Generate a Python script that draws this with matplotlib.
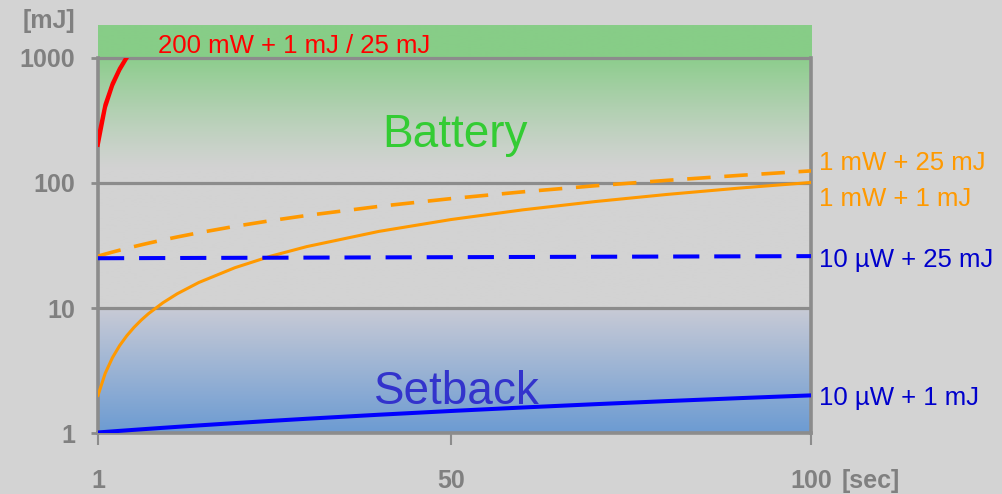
import numpy as np
import matplotlib
matplotlib.use("Agg")
import matplotlib.pyplot as plt
from matplotlib.patches import Rectangle
from matplotlib.ticker import NullLocator

plt.rcParams['font.family'] = ['Liberation Sans', 'DejaVu Sans']

# energy budget over time [mJ] for each power draw + start-up energy
t = [1, 2, 3, 4, 5, 6, 7, 8, 10, 12, 15, 20, 25, 30, 40, 50, 60, 70, 80, 90, 100]
mw1_25mj = [26, 27, 28, 29, 30, 31, 32, 33, 35, 37, 40, 45, 50, 55, 65, 75, 85, 95, 105, 115, 125]
mw1_1mj = [2, 3, 4, 5, 6, 7, 8, 9, 11, 13, 16, 21, 26, 31, 41, 51, 61, 71, 81, 91, 101]
uw10_25mj = [25.01, 25.02, 25.03, 25.04, 25.05, 25.06, 25.07, 25.08, 25.1, 25.12, 25.15,
             25.2, 25.25, 25.3, 25.4, 25.5, 25.6, 25.7, 25.8, 25.9, 26.0]
uw10_1mj = [1.01, 1.02, 1.03, 1.04, 1.05, 1.06, 1.07, 1.08, 1.1, 1.12, 1.15,
            1.2, 1.25, 1.3, 1.4, 1.5, 1.6, 1.7, 1.8, 1.9, 2.0]

t_red = [1, 2, 3, 4, 5, 6]
mw200_1mj = [201, 401, 601, 801, 1001, 1201]
mw200_25mj = [225, 425, 625, 825, 1025, 1225]

yticks = [1, 10, 100, 1000]
xticks = [1, 50, 100]

bg = '#d3d3d3'
grid_c = '#8c8c8c'
text_gray = '#808080'
orange = '#ff9900'
blue = '#0000ff'
blue_txt = '#0000cc'
red = '#ff0000'

fig = plt.figure(figsize=(10.02, 4.94), dpi=100, facecolor=bg)
ax = fig.add_axes([98 / 1002, 61 / 494, 713 / 1002, 408 / 494])
ax.set_facecolor(bg)

top_dec = 408 / 125  # axes top in decades, the green strip sits above 1000

# vertical background shading: green battery zone, blue setback zone
v = np.linspace(0, top_dec, 800)
gray = np.array([0xd3, 0xd3, 0xd3]) / 255
green_band = np.array([0x87, 0xcd, 0x87]) / 255
green_top = np.array([0x8c, 0xcd, 0x8c]) / 255
blue_lo = np.array([0x6c, 0x9b, 0xd2]) / 255
blue_hi = np.array([0xc9, 0xcb, 0xd6]) / 255
img = np.zeros((len(v), 1, 3))
for i, d in enumerate(v):
    if d >= 3:
        c = green_band
    elif d >= 2.1:
        f = (d - 2.1) / 0.9
        c = gray + (green_top - gray) * f ** 1.2
    elif d >= 1:
        c = gray
    else:
        c = blue_lo + (blue_hi - blue_lo) * d
    img[i, 0] = c
ax.imshow(img, extent=(0, 1, 0, 1), transform=ax.transAxes, aspect='auto',
          origin='lower', interpolation='bilinear', zorder=0)

ax.set_yscale('log')
ax.set_xlim(1, 100)
ax.set_ylim(1, 10 ** top_dec)

clip = Rectangle((1, 1), 99, 999, transform=ax.transData, fill=False)

ax.plot(t, mw1_25mj, color=orange, lw=2.6, dashes=(6.5, 3.8), zorder=3)
ax.plot(t, mw1_1mj, color=orange, lw=2.2, zorder=3)
ax.plot(t, uw10_25mj, color=blue, lw=2.9, dashes=(6.5, 3.7), zorder=3)
ax.plot(t, uw10_1mj, color=blue, lw=2.9, zorder=3)
for ys in (mw200_1mj, mw200_25mj):
    ln, = ax.plot(t_red, ys, color=red, lw=2.6, zorder=3)
    ln.set_clip_path(clip)

# axes styling
for s in ('left', 'right'):
    ax.spines[s].set_bounds(1, 1000)
    ax.spines[s].set_color(grid_c)
    ax.spines[s].set_linewidth(2.6)
ax.spines['bottom'].set_color(grid_c)
ax.spines['bottom'].set_linewidth(2.6)
ax.spines['top'].set_visible(False)

ax.set_yticks(yticks)
ax.set_yticklabels([str(y) for y in yticks], fontweight='bold')
ax.yaxis.set_minor_locator(NullLocator())
ax.set_xticks(xticks)
ax.set_xticklabels([str(x) for x in xticks], fontweight='bold')
ax.tick_params(axis='y', length=5, width=2, color=grid_c, pad=11.5,
               labelsize=18, labelcolor=text_gray)
ax.tick_params(axis='x', length=8.5, width=1.5, color=grid_c, pad=17.5,
               labelsize=18, labelcolor=text_gray)
ax.set_axisbelow(True)
ax.yaxis.grid(True, color=grid_c, lw=2.3)

ax.annotate('[sec]', xy=(100, 0), xycoords=('data', 'axes fraction'),
            xytext=(31, -55), textcoords='offset pixels', ha='left', va='baseline',
            fontsize=18, fontweight='bold', color=text_gray)
ax.annotate('[mJ]', xy=(0, 1), xycoords='axes fraction',
            xytext=(-23, 4), textcoords='offset pixels', ha='right', va='center',
            fontsize=18, fontweight='bold', color=text_gray)

# zone names
ax.text(50.5, 194, 'Battery', ha='center', va='baseline', fontsize=33, color='#33cc33')
ax.text(50.9, 1.71, 'Setback', ha='center', va='baseline', fontsize=33, color='#3333cc')

# series labels at the right end of each curve
labels = [
    ('1 mW + 25 mJ', mw1_25mj[-1], 1, orange),
    ('1 mW + 1 mJ', mw1_1mj[-1], -24, orange),
    ('10 µW + 25 mJ', uw10_25mj[-1], -11, blue_txt),
    ('10 µW + 1 mJ', uw10_1mj[-1], -10, blue_txt),
]
for txt, yv, dy, col in labels:
    ax.annotate(txt, xy=(100, yv), xytext=(8, dy), textcoords='offset pixels',
                ha='left', va='baseline', fontsize=18.5, color=col,
                annotation_clip=False)

ax.annotate('200 mW + 1 mJ / 25 mJ', xy=(1, 1000), xytext=(60, 5),
            textcoords='offset pixels', ha='left', va='baseline',
            fontsize=18.5, color=red)

fig.savefig('out.png', dpi=100, facecolor=bg)
